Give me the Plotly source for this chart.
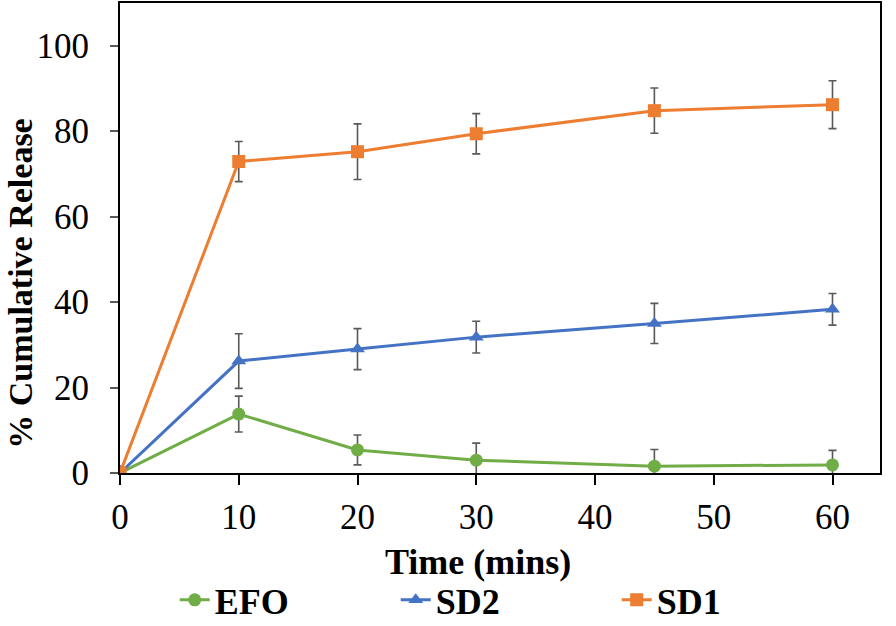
import plotly.graph_objects as go

# data
time_min = [0, 10, 20, 30, 45, 60]

efo = [0, 13.8, 5.4, 3.0, 1.6, 1.9]
efo_err = [1.5, 4.2, 3.5, 4.0, 3.9, 3.4]

sd2 = [0, 26.2, 29.0, 31.8, 35.0, 38.3]
sd2_err = [1.5, 6.4, 4.8, 3.7, 4.7, 3.7]

sd1 = [0, 72.9, 75.2, 79.4, 84.8, 86.2]
sd1_err = [1.5, 4.7, 6.5, 4.7, 5.3, 5.6]

x_ticks = [0, 10, 20, 30, 40, 50, 60]
y_ticks = [0, 20, 40, 60, 80, 100]

FONT = "Liberation Serif, Times New Roman, serif"
ERR_COLOR = "#595959"

series = [
    ("EFO", efo, efo_err, "#70AD47", "circle"),
    ("SD2", sd2, sd2_err, "#4472C4", "triangle-up"),
    ("SD1", sd1, sd1_err, "#ED7D31", "square"),
]

fig = go.Figure()
for name, vals, errs, color, symbol in series:
    fig.add_trace(go.Scatter(
        x=time_min, y=vals, name=name, mode="lines+markers",
        line=dict(color=color, width=3),
        marker=dict(symbol=symbol, size=13, color=color),
        error_y=dict(type="data", array=errs, visible=True,
                     color=ERR_COLOR, thickness=1.6, width=4),
    ))

fig.update_layout(
    width=896, height=626,
    margin=dict(l=120, r=16, t=3, b=153, autoexpand=False),
    paper_bgcolor="white", plot_bgcolor="white",
    font=dict(family=FONT, size=35, color="black"),
    legend=dict(
        orientation="h", x=0.072, xanchor="left", y=-0.27, yanchor="middle",
        font=dict(family=FONT, size=36, color="black", weight="bold"),
        entrywidth=176, entrywidthmode="pixels", itemwidth=30,
    ),
    xaxis=dict(
        range=[0, 64], tickvals=x_ticks, automargin=False,
        ticks="outside", ticklen=10, tickwidth=1.5, tickcolor="black",
        ticklabelstandoff=2,
        showline=True, linecolor="black", linewidth=2, mirror=True,
        showgrid=False, zeroline=False,
    ),
    yaxis=dict(
        range=[0, 110], tickvals=y_ticks, automargin=False,
        ticks="outside", ticklen=8, tickwidth=1.5, tickcolor=ERR_COLOR,
        ticklabelstandoff=14,
        showline=True, linecolor="black", linewidth=2, mirror=True,
        showgrid=False, zeroline=False,
    ),
    annotations=[
        dict(text="<b>Time (mins)</b>", xref="paper", yref="paper",
             x=0.471, y=-0.189, showarrow=False, xanchor="center", yanchor="middle",
             font=dict(family=FONT, size=36, color="black")),
        dict(text="<b>% Cumulative Release</b>", xref="paper", yref="paper",
             x=-0.132, y=0.404, showarrow=False, textangle=-90,
             xanchor="center", yanchor="middle",
             font=dict(family=FONT, size=34, color="black")),
    ],
)

# page body has a default 8px margin; drop it so the figure fills the window
fig.write_html("out.html", config={"displayModeBar": False},
               post_script="document.body.style.margin='0';")
